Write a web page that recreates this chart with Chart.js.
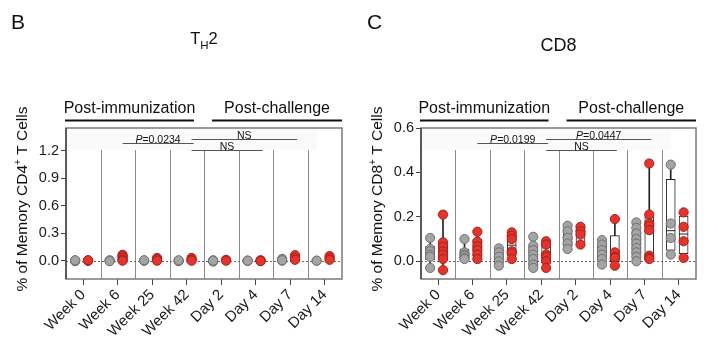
<!DOCTYPE html>
<html>
<head>
<meta charset="utf-8">
<script src="https://cdn.jsdelivr.net/npm/chart.js@4.4.1/dist/chart.umd.min.js"></script>
<style>
    body { margin: 0; background: #fff; }
    #contenedor { position: relative; width: 718px; height: 354px; }
    #contenedor canvas { position: absolute; top: 0; }
</style>
</head>
<body>
<div id="contenedor">
    <canvas id="chart1" width="359" height="354" style="left:0"></canvas>
    <canvas id="chart2" width="359" height="354" style="left:359px"></canvas>
</div>
<script>
// Categorías del eje x.
const CATEGORIAS = ['Week 0', 'Week 6', 'Week 25', 'Week 42', 'Day 2', 'Day 4', 'Day 7', 'Day 14'];
// Fases del estudio (índices de la primera y última categoría).
const FASES = ['Post-immunization', 'Post-challenge'];
const FASES_RANGO = [[0, 3], [4, 7]];

// Panel B (TH2): valores por categoría, grupo gris y grupo rojo.
const TH2_GRIS = [
    [0.0, 0.0, -0.005, 0.005],
    [0.0, 0.005, -0.005],
    [0.0, 0.0, 0.005],
    [0.0, -0.005, 0.005],
    [0.005, -0.01, 0.0],
    [0.0, 0.0, 0.0],
    [0.02, 0.0, 0.005],
    [0.0, 0.0]
];
const TH2_ROJO = [
    [0.0, 0.0, 0.005],
    [0.065, 0.05, 0.03, 0.01, 0.0],
    [0.03, 0.015, 0.0],
    [0.03, 0.01, 0.0],
    [0.01, 0.0],
    [0.005, 0.0, -0.005],
    [0.06, 0.03, 0.01],
    [0.05, 0.025, 0.01]
];
const TH2_TICKS = [0, 0.3, 0.6, 0.9, 1.2];
const TH2_COMPARACIONES = [
    { desde: 1, hasta: 3, texto: 'P=0.0234', nivel: 1 },
    { desde: 3, hasta: 6, texto: 'NS', nivel: 0 },
    { desde: 3, hasta: 5, texto: 'NS', nivel: 2 }
];

// Panel C (CD8).
const CD8_GRIS = [
    [0.105, 0.055, 0.045, 0.03, 0.02, -0.03],
    [0.1, 0.04, 0.03, 0.025, 0.015, 0.01],
    [0.058, 0.04, 0.02, 0.0, -0.02],
    [0.11, 0.07, 0.05, 0.03, 0.01, -0.015, -0.03],
    [0.16, 0.135, 0.105, 0.08, 0.055],
    [0.095, 0.075, 0.05, 0.03, 0.01, -0.015],
    [0.175, 0.15, 0.125, 0.1, 0.08, 0.06, 0.04, 0.02, 0.0],
    [0.435, 0.17, 0.105, 0.03]
];
const CD8_ROJO = [
    [0.21, 0.085, 0.065, 0.045, 0.03, 0.01, -0.04],
    [0.133, 0.088, 0.067, 0.05, 0.03, 0.01],
    [0.13, 0.115, 0.1, 0.045, 0.035, 0.01],
    [0.09, 0.075, 0.03, 0.02, 0.0, -0.03],
    [0.155, 0.135, 0.12, 0.075],
    [0.19, 0.04, 0.02, 0.015, -0.02],
    [0.44, 0.21, 0.17, 0.16, 0.14, 0.025, 0.015, 0.01],
    [0.22, 0.155, 0.09, 0.015]
];
const CD8_TICKS = [0, 0.2, 0.4, 0.6];
const CD8_COMPARACIONES = [
    { desde: 1, hasta: 3, texto: 'P=0.0199', nivel: 1 },
    { desde: 3, hasta: 6, texto: 'P=0.0447', nivel: 0 },
    { desde: 3, hasta: 5, texto: 'NS', nivel: 2 }
];

// Estilos generales.
const FUENTE = "'Liberation Sans', Arial, Helvetica, sans-serif";
const DESPLAZA_GRIS = -0.235;
const DESPLAZA_ROJO = 0.14;
const NIVELES_PX = [11, 15, 22];

/*
*   Cuantil al estilo Prism: posición p*(n+1) con interpolación.
*/
const cuantil = (ordenados, p) => {
    const n = ordenados.length;
    const r = p * (n + 1);
    if (r <= 1) return ordenados[0];
    if (r >= n) return ordenados[n - 1];
    const i = Math.floor(r);
    return ordenados[i - 1] + (r - i) * (ordenados[i] - ordenados[i - 1]);
}

/*
*   Arma los datasets (bigotes, cajas, medianas y puntos) de un panel.
*/
const construirDatasets = (gris, rojo) => {
    let bigotes = [], cajas = [], medianas = [];
    let puntos = { gris: [], rojo: [] };
    [['gris', gris, DESPLAZA_GRIS], ['rojo', rojo, DESPLAZA_ROJO]].forEach(([clave, serie, d]) => {
        serie.forEach((valores, i) => {
            const x = i + d;
            const o = [...valores].sort((a, b) => a - b);
            bigotes.push({ x: x, y: [o[0], o[o.length - 1]] });
            cajas.push({ x: x, y: [cuantil(o, 0.25), cuantil(o, 0.75)] });
            medianas.push({ x: x, y: cuantil(o, 0.5) });
            valores.forEach(v => puntos[clave].push({ x: x, y: v }));
        });
    });
    return [
        { type: 'bar', data: bigotes, grouped: false, barThickness: 1, backgroundColor: '#222', order: 4 },
        { type: 'bar', data: cajas, grouped: false, barThickness: 9, backgroundColor: '#fff', borderColor: '#222', borderWidth: 1, borderSkipped: false, order: 3 },
        { type: 'scatter', data: medianas, pointStyle: 'line', pointRadius: 4.5, borderColor: '#222', borderWidth: 1, order: 2 },
        { type: 'scatter', data: puntos.gris, pointRadius: 4.6, backgroundColor: '#a4a4a4', borderColor: '#707070', borderWidth: 1, order: 1 },
        { type: 'scatter', data: puntos.rojo, pointRadius: 4.6, backgroundColor: '#e8332b', borderColor: '#a8201a', borderWidth: 1, order: 0 }
    ];
}

// Dibuja una secuencia de trozos de texto [texto, tamaño, desplazamiento vertical, cursiva].
const anchoTrozos = (ctx, trozos) => trozos.reduce((s, t) => {
    ctx.font = `${t[3] ? 'italic ' : ''}${t[1]}px ${FUENTE}`;
    return s + ctx.measureText(t[0]).width;
}, 0);
const dibujarTrozos = (ctx, trozos, x, y) => {
    trozos.forEach(t => {
        ctx.font = `${t[3] ? 'italic ' : ''}${t[1]}px ${FUENTE}`;
        ctx.fillText(t[0], x, y + t[2]);
        x += ctx.measureText(t[0]).width;
    });
}

/*
*   Plugin con los elementos de la figura que no son datos.
*/
const decorado = (panel) => ({
    id: 'decorado',
    beforeDatasetsDraw(chart) {
        const { ctx, chartArea: a, scales: { x, y } } = chart;
        ctx.save();
        // Banda clara detrás de las comparaciones.
        ctx.fillStyle = '#fafafa';
        ctx.fillRect(a.left + 1, a.top + 1, x.getPixelForValue(6.75) - a.left, 21);
        // Separadores entre categorías.
        ctx.strokeStyle = '#8c8c8c';
        ctx.lineWidth = 1;
        for (let i = 0; i < CATEGORIAS.length - 1; i++) {
            const px = Math.round(x.getPixelForValue(i + 0.5)) + 0.5;
            ctx.beginPath();
            ctx.moveTo(px, a.top + 22);
            ctx.lineTo(px, a.bottom);
            ctx.stroke();
        }
        // Línea punteada en cero.
        const y0 = Math.round(y.getPixelForValue(0)) + 0.5;
        ctx.setLineDash([2, 2]);
        ctx.strokeStyle = '#666';
        ctx.beginPath();
        ctx.moveTo(a.left, y0);
        ctx.lineTo(a.right, y0);
        ctx.stroke();
        ctx.restore();
    },
    afterDraw(chart) {
        const { ctx, chartArea: a, scales: { x } } = chart;
        ctx.save();
        // Marco del gráfico.
        ctx.strokeStyle = '#7a7a7a';
        ctx.lineWidth = 1.5;
        ctx.strokeRect(a.left, a.top, a.right - a.left, a.bottom - a.top);
        ctx.strokeStyle = '#444';
        ctx.beginPath();
        ctx.moveTo(a.left, a.top);
        ctx.lineTo(a.left, a.bottom);
        ctx.stroke();

        ctx.fillStyle = '#111';
        ctx.textBaseline = 'alphabetic';
        // Encabezados de fase con su línea.
        FASES.forEach((texto, k) => {
            const [i0, i1] = FASES_RANGO[k];
            const x1 = k === 0 ? x.getPixelForValue(i0 - 0.5) - 1 : x.getPixelForValue(i0 - 0.5) + 8;
            const x2 = k === 0 ? x.getPixelForValue(i1 + 0.5) - 10 : x.getPixelForValue(i1 + 0.5);
            ctx.fillRect(x1, a.top - 8.5, x2 - x1, 2);
            ctx.font = `16px ${FUENTE}`;
            ctx.textAlign = 'center';
            ctx.fillText(texto, (x1 + x2) / 2, a.top - 15.5);
        });

        // Comparaciones con valor P.
        panel.comparaciones.forEach(c => {
            const x1 = x.getPixelForValue(c.desde + DESPLAZA_ROJO);
            const x2 = x.getPixelForValue(c.hasta + DESPLAZA_ROJO) + 2;
            const yl = a.top + NIVELES_PX[c.nivel] + 0.5;
            ctx.strokeStyle = '#555';
            ctx.lineWidth = 1;
            ctx.beginPath();
            ctx.moveTo(x1, yl);
            ctx.lineTo(x2, yl);
            ctx.stroke();
            const trozos = c.texto.startsWith('P=')
                ? [['P', 10.5, 0, true], [c.texto.slice(1), 10.5, 0, false]]
                : [[c.texto, 10.5, 0, false]];
            ctx.textAlign = 'left';
            const w = anchoTrozos(ctx, trozos);
            dibujarTrozos(ctx, trozos, (x1 + x2) / 2 - w / 2, yl - 1);
        });

        // Título del panel centrado sobre el área.
        ctx.textAlign = 'left';
        const wt = anchoTrozos(ctx, panel.titulo);
        dibujarTrozos(ctx, panel.titulo, (a.left + a.right) / 2 - wt / 2, panel.tituloBase);

        // Letra del panel.
        ctx.font = `21px ${FUENTE}`;
        ctx.fillText(panel.letra, panel.letraX, 28.5);

        // Título del eje y (rotado).
        ctx.translate(panel.ejeYx, 199);
        ctx.rotate(-Math.PI / 2);
        const wy = anchoTrozos(ctx, panel.tituloY);
        dibujarTrozos(ctx, panel.tituloY, -wy / 2, 0);
        ctx.restore();
    }
});

const PANELES = [
    {
        id: 'chart1', letra: 'B', letraX: 11, gris: TH2_GRIS, rojo: TH2_ROJO, ticks: TH2_TICKS,
        min: -0.2, max: 1.45, comparaciones: TH2_COMPARACIONES, anchoY: 66, derecha: 17,
        titulo: [['T', 16.5, 0], ['H', 11.5, 5], ['2', 16.5, 0]], tituloBase: 43.5,
        tituloY: [['% of Memory CD4', 15.5, 0], ['+', 10, -6], [' T Cells', 15.5, 0]], ejeYx: 27
    },
    {
        id: 'chart2', letra: 'C', letraX: 8, gris: CD8_GRIS, rojo: CD8_ROJO, ticks: CD8_TICKS,
        min: -0.08, max: 0.6, comparaciones: CD8_COMPARACIONES, anchoY: 62, derecha: 22,
        titulo: [['CD8', 18, 0]], tituloBase: 50.5,
        tituloY: [['% of Memory CD8', 15.5, 0], ['+', 10, -6], [' T Cells', 15.5, 0]], ejeYx: 23
    }
];

// Se crea cada panel con Chart.js.
PANELES.forEach(panel => {
    new Chart(document.getElementById(panel.id), {
        type: 'bar',
        data: { datasets: construirDatasets(panel.gris, panel.rojo) },
        options: {
            responsive: false,
            animation: false,
            events: [],
            layout: { padding: { top: 128, right: panel.derecha, left: 0, bottom: 0 } },
            plugins: { legend: { display: false }, tooltip: { enabled: false } },
            scales: {
                x: {
                    type: 'linear',
                    min: -0.5,
                    max: 7.5,
                    offset: false,
                    afterBuildTicks: (scale) => { scale.ticks = CATEGORIAS.map((_, i) => ({ value: i })); },
                    afterFit: (scale) => { scale.height = 75; },
                    grid: { offset: false, drawOnChartArea: false, drawTicks: true, tickLength: 6, color: '#444' },
                    border: { display: false },
                    ticks: {
                        autoSkip: false,
                        minRotation: 45,
                        maxRotation: 45,
                        padding: 1,
                        color: '#1a1a1a',
                        font: { family: FUENTE, size: 15 },
                        callback: (v) => CATEGORIAS[v]
                    }
                },
                y: {
                    min: panel.min,
                    max: panel.max,
                    afterBuildTicks: (scale) => { scale.ticks = panel.ticks.map(v => ({ value: v })); },
                    afterFit: (scale) => { scale.width = panel.anchoY; },
                    grid: { drawOnChartArea: false, drawTicks: true, tickLength: 5, color: '#444' },
                    border: { display: false },
                    ticks: {
                        padding: 2,
                        color: '#1a1a1a',
                        font: { family: FUENTE, size: 14.5 },
                        callback: (v) => v.toFixed(1)
                    }
                }
            }
        },
        plugins: [decorado(panel)]
    });
});
</script>
</body>
</html>
